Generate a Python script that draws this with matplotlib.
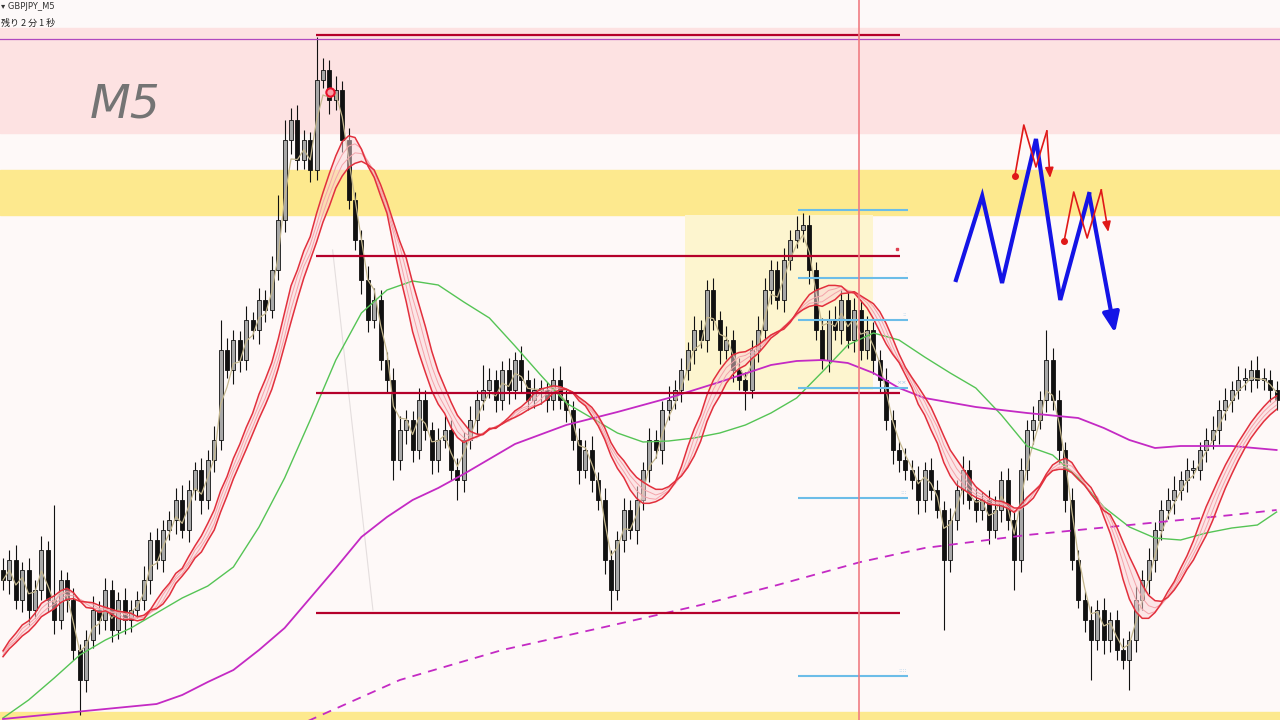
import numpy as np
import pandas as pd
import matplotlib.pyplot as plt

# ---- price data (bar closes, arbitrary units = height from chart bottom) ----
closes = [
    140, 160, 120, 150, 110, 130, 170, 120, 100, 140,
    120, 70, 40, 80, 110, 100, 130, 90, 120, 100,
    110, 120, 140, 180, 160, 190, 200, 220, 190, 230,
    250, 220, 260, 280, 370, 350, 380, 360, 400, 390,
    420, 410, 450, 500, 580, 600, 560, 580, 550, 640,
    650, 620, 630, 580, 520, 480, 440, 400, 420, 360,
    340, 260, 290, 300, 270, 320, 290, 260, 280, 290,
    250, 240, 280, 300, 320, 330, 340, 320, 350, 330,
    360, 340, 320, 330, 330, 320, 340, 320, 310, 280,
    250, 270, 240, 220, 160, 130, 180, 210, 190, 220,
    250, 280, 270, 310, 320, 330, 350, 370, 390, 380,
    430, 400, 370, 380, 350, 340, 330, 370, 390, 430,
    450, 420, 460, 480, 490, 495, 450, 390, 360, 400,
    390, 420, 380, 410, 370, 390, 360, 340, 300, 270,
    260, 250, 240, 220, 250, 230, 210, 160, 200, 230,
    250, 220, 210, 220, 190, 210, 240, 200, 160, 250,
    290, 300, 320, 360, 320, 270, 220, 160, 120, 100,
    80, 110, 80, 100, 70, 60, 80, 120, 140, 160,
    190, 210, 220, 230, 240, 250, 250, 270, 280, 290,
    310, 320, 330, 340, 340, 350, 340, 340, 330, 320,
]
first_open = 150
# closes before the visible window (needed to start the averages)
prior_closes = [30, 20, 40, 30, 50, 40, 30, 50, 60, 40, 50, 70, 60, 80, 90, 120]

wick_up = [
    12, 10, 15, 8, 12, 10, 14, 9, 95, 10,
    8, 12, 6, 10, 14, 9, 12, 10, 8, 12,
    10, 9, 14, 8, 12, 10, 9, 12, 15, 10,
    8, 12, 10, 14, 30, 12, 10, 9, 14, 8,
    12, 10, 14, 25, 20, 12, 15, 10, 8, 43,
    12, 10, 14, 9, 12, 8, 10, 14, 12, 10,
    8, 12, 14, 10, 9, 12, 10, 8, 12, 14,
    10, 12, 8, 14, 10, 25, 12, 10, 9, 12,
    8, 14, 10, 12, 10, 8, 12, 14, 10, 9,
    12, 10, 14, 8, 12, 10, 9, 12, 10, 14,
    8, 12, 10, 9, 14, 10, 12, 8, 14, 10,
    10, 12, 9, 14, 10, 12, 8, 10, 14, 12,
    10, 9, 12, 10, 14, 12, 10, 8, 12, 10,
    14, 10, 9, 12, 10, 14, 8, 10, 12, 10,
    9, 12, 10, 14, 8, 12, 10, 9, 12, 10,
    14, 10, 12, 8, 10, 14, 9, 12, 10, 12,
    10, 14, 9, 30, 12, 10, 8, 12, 10, 9,
    14, 10, 12, 8, 10, 12, 9, 14, 10, 12,
    8, 10, 12, 14, 9, 12, 10, 8, 12, 14,
    10, 12, 9, 14, 12, 10, 14, 12, 10, 9,
]
wick_dn = [
    10, 14, 9, 12, 15, 8, 10, 12, 14, 9,
    12, 10, 35, 12, 8, 14, 10, 12, 9, 14,
    12, 8, 10, 14, 9, 12, 10, 14, 8, 12,
    10, 14, 9, 12, 10, 8, 14, 12, 10, 9,
    14, 12, 8, 10, 12, 14, 10, 9, 12, 10,
    8, 14, 10, 12, 9, 10, 14, 12, 8, 10,
    12, 20, 10, 14, 12, 9, 10, 14, 12, 8,
    10, 20, 12, 9, 14, 10, 8, 12, 10, 14,
    9, 12, 10, 8, 14, 12, 10, 9, 12, 10,
    14, 8, 12, 10, 14, 20, 10, 12, 9, 14,
    10, 12, 8, 14, 10, 9, 12, 10, 14, 8,
    12, 10, 14, 9, 12, 10, 20, 8, 12, 10,
    14, 9, 12, 10, 8, 12, 14, 10, 9, 12,
    10, 14, 8, 12, 10, 9, 14, 12, 10, 14,
    12, 10, 9, 14, 12, 10, 8, 70, 12, 10,
    14, 9, 12, 10, 14, 8, 12, 10, 30, 12,
    10, 14, 9, 12, 10, 14, 12, 10, 8, 12,
    40, 10, 14, 12, 10, 9, 30, 12, 10, 14,
    12, 10, 9, 14, 10, 12, 8, 10, 12, 9,
    14, 10, 12, 9, 10, 12, 8, 10, 12, 10,
]

# longer moving averages (bar index, level)
green_bars = [0, 4, 8, 12, 16, 20, 24, 28, 32, 36, 40, 44, 48, 52, 56, 60,
              64, 68, 72, 76, 80, 84, 88, 92, 96, 100, 104, 108, 112, 116,
              120, 124, 128, 132, 136, 140, 144, 148, 152, 156, 160, 164,
              168, 172, 176, 180, 184, 188, 192, 196, 199]
green_ma = [2, 20, 42, 65, 80, 92, 107, 122, 134, 153, 193, 242, 300, 360,
            407, 430, 439, 435, 418, 402, 374, 345, 317, 302, 287, 278, 279,
            282, 287, 295, 307, 322, 348, 375, 387, 380, 363, 347, 332, 305,
            274, 265, 242, 213, 193, 182, 180, 187, 192, 195, 208]
magenta_bars = [0, 8, 16, 24, 28, 32, 36, 40, 44, 48, 52, 56, 60, 64, 68,
                72, 80, 88, 96, 104, 112, 120, 124, 128, 132, 136, 140, 144,
                152, 160, 168, 172, 176, 180, 184, 192, 199]
magenta_ma = [1, 6, 11, 16, 25, 38, 50, 70, 92, 122, 152, 183, 203, 220,
              232, 246, 276, 295, 308, 322, 338, 355, 359, 360, 357, 347,
              332, 322, 313, 307, 302, 292, 280, 272, 274, 274, 270]
htf_bars = [0, 48, 62, 78, 94, 109, 121, 134, 144, 160, 176, 192, 199]
htf_ma = [-137, 0, 40, 70, 93, 115, 135, 158, 172, 185, 195, 205, 210]

# horizontal levels
red_levels = [685, 464, 327, 107]
blue_levels = [510, 442, 400, 332, 222, 44]
blue_tags = ['', '·', '::', '××', ':::', '::::']
purple_level = 681
cursor_bar = 133.75
faint_line_x = [51.5, 57.8]
faint_line_y = [470, 110]

# hand-drawn scenario (bar, level)
blue_zig_x = [148.9, 153.0, 156.1, 161.4, 165.2, 169.7, 173.75]
blue_zig_y = [440, 524, 437, 581, 420, 526, 393]
red_zig1_x = [158.1, 159.5, 161.4, 163.1, 163.6]
red_zig1_y = [544, 595, 553, 589, 542]
red_zig2_x = [165.8, 167.3, 169.4, 171.6, 172.7]
red_zig2_y = [479, 528, 482, 530, 488]


def ema(values, period, seed):
    out = []
    k = 2.0 / (period + 1)
    cur = seed
    for v in values:
        cur = cur + k * (v - cur)
        out.append(cur)
    return np.array(out)


closes = np.array(closes, dtype=float)
opens = np.concatenate([[first_open], closes[:-1]])
highs = np.maximum(opens, closes) + np.array(wick_up)
lows = np.minimum(opens, closes) - np.array(wick_dn)
idx = np.arange(len(closes))
full = pd.Series(np.concatenate([prior_closes, closes]))
n_prior = len(prior_closes)


def sma(period):
    return full.rolling(period, min_periods=1).mean().values[n_prior:]


fig = plt.figure(figsize=(12.8, 7.2), dpi=100)
fig.patch.set_facecolor('#fef9f8')
ax = fig.add_axes([0, 0, 1, 1])
ax.set_facecolor('#fef9f8')
ax.set_xlim(-0.47, 199.53)
ax.set_ylim(0, 720)
ax.axis('off')

# zones
ax.axhspan(692, 720, color='#fdf9f9', zorder=0)
ax.axhspan(587, 692, color='#fde2e2', zorder=0)
ax.axhspan(505, 550, color='#fde98e', zorder=0)
ax.axhspan(0, 8, color='#fde98e', zorder=0)
ax.fill_between([106.6, 135.9], 330, 505, color='#fdf5cf', zorder=0.5, lw=0)
ax.plot(faint_line_x, faint_line_y, color='#e4dede', lw=0.8, zorder=1)

# candles
bull = closes >= opens
ax.vlines(idx, lows, highs, color='#111111', lw=0.8, zorder=3)
body_h = np.abs(closes - opens)
body_h = np.where(body_h < 2, 2, body_h)
ax.bar(idx[bull], body_h[bull], bottom=opens[bull], width=0.6,
       color='#a8a8a8', edgecolor='#111111', lw=0.6, zorder=3.1)
ax.bar(idx[~bull], body_h[~bull], bottom=closes[~bull], width=0.6,
       color='#111111', edgecolor='#111111', lw=0.6, zorder=3.1)

# moving averages
ax.plot(idx, ema(closes, 3, closes[0]), color='#c4b78e', lw=0.9, zorder=4)
ribbon_periods = [12, 13, 14, 15]
ribbon = [sma(per) for per in ribbon_periods]
ax.fill_between(idx, np.min(ribbon, axis=0), np.max(ribbon, axis=0),
                color='#fbd3d6', alpha=0.5, lw=0, zorder=4)
for j, line in enumerate(ribbon):
    edge = j in (0, len(ribbon) - 1)
    ax.plot(idx, line, color='#e2303d' if edge else '#f4a3aa',
            lw=1.1 if edge else 0.7, zorder=4.2 if edge else 4.1)
ax.plot(green_bars, green_ma, color='#55c455', lw=1.0, zorder=4)
ax.plot(magenta_bars, magenta_ma, color='#c42ac4', lw=1.3, zorder=4)
ax.plot(htf_bars, htf_ma, color='#c42ac4', lw=1.3, ls=(0, (5, 4)), zorder=4)

# levels
for lv in red_levels:
    ax.hlines(lv, 48.9, 140.2, color='#b5002a', lw=1.6, zorder=5)
ax.axhline(purple_level, color='#b048c0', lw=0.9, zorder=5)
for lv, tag in zip(blue_levels, blue_tags):
    ax.hlines(lv, 124.2, 141.4, color='#6cbde8', lw=1.5, zorder=5)
    ax.text(141.2, lv + 3, tag, fontsize=4.5, color='#9cc8e8', ha='right',
            va='bottom', zorder=5)
ax.axvline(cursor_bar, color='#f07a80', lw=1.3, alpha=0.9, zorder=5)
ax.plot([139.7], [471], 's', color='#e04050', ms=2, zorder=5)
ax.plot([51.1], [628], 'o', mfc='#f7a0a8', mec='#e8102a', mew=1.5, ms=6, zorder=6)

# scenario drawing
ax.plot(blue_zig_x[:-1], blue_zig_y[:-1], color='#1414e6', lw=3, zorder=7,
        solid_joinstyle='miter')
ax.annotate('', xy=(blue_zig_x[-1], blue_zig_y[-1] - 6),
            xytext=(blue_zig_x[-2], blue_zig_y[-2]),
            arrowprops=dict(arrowstyle='-|>,head_length=1.2,head_width=0.5',
                            color='#1414e6', lw=3, shrinkA=0, shrinkB=0),
            zorder=7)
for zx, zy in [(red_zig1_x, red_zig1_y), (red_zig2_x, red_zig2_y)]:
    ax.plot(zx[:-1], zy[:-1], color='#e01818', lw=1.2, zorder=8)
    ax.plot(zx[0], zy[0], 'o', color='#e01818', ms=4, zorder=8)
    ax.annotate('', xy=(zx[-1], zy[-1]), xytext=(zx[-2], zy[-2]),
                arrowprops=dict(arrowstyle='-|>,head_length=0.6,head_width=0.25',
                                color='#e01818', lw=1.2, shrinkA=0, shrinkB=0),
                zorder=8)

# labels
fig.text(90 / 1280, 1 - 117 / 720, 'M5', fontsize=34, style='italic',
         color='#747474', family='DejaVu Sans', fontweight='light')
fig.text(1 / 1280, 1 - 9 / 720, '▾ GBPJPY_M5', fontsize=6, color='#333333',
         family=['DejaVu Sans'])
fig.text(1 / 1280, 1 - 26 / 720, '残り 2 分 1 秒', fontsize=6.5, color='#222222',
         family=['Noto Sans CJK JP', 'DejaVu Sans'])

fig.savefig('out.png', dpi=100, facecolor=fig.get_facecolor())
